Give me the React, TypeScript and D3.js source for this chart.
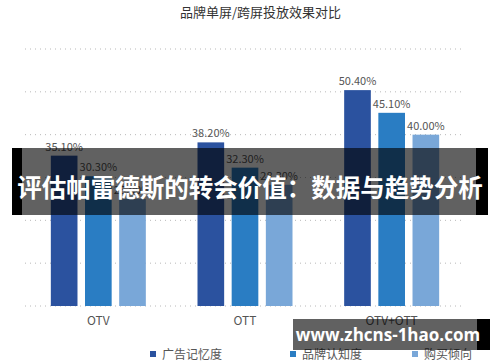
import * as d3 from "d3";
import React from "react";

const categories = ["OTV", "OTT", "OTV+OTT"];
const seriesNames = ["广告记忆度", "品牌认知度", "购买倾向"];
const adRecall = [35.1, 38.2, 50.4];
const brandAwareness = [30.3, 32.3, 45.1];
const purchaseIntent = [25.0, 28.3, 40.0];
const yTicks = [0, 10, 20, 30, 40, 50, 60];
const colors = ["#2b529f", "#2a7dc3", "#79a7d8"];

const width = 500;
const height = 362;
const margin = { top: 49, right: 35, bottom: 56, left: 25 };

export default function App() {
    const values = [adRecall, brandAwareness, purchaseIntent];

    const x = d3.scaleBand()
        .domain(categories)
        .range([margin.left, width - margin.right]);

    const groupWidth = 95;
    const inner = d3.scaleBand()
        .domain(seriesNames)
        .range([0, groupWidth])
        .paddingInner(0.22);

    const y = d3.scaleLinear()
        .domain([0, 60])
        .range([height - margin.bottom, margin.top]);

    const offset = (x.bandwidth() - groupWidth) / 2;
    const font = "'Noto Sans CJK SC', 'Noto Sans', sans-serif";

    // legend positions
    const legendX = [150, 290, 412];

    return (
        <svg width={width} height={height} style={{ position: "absolute", left: 0, top: 0 }}
            fontFamily={font}>
            <rect width={width} height={height} fill="#ffffff" />

            <text x={180} y={17} fontSize={13} fill="#333">品牌单屏/跨屏投放效果对比</text>

            {yTicks.map(t => (
                <line key={t} x1={margin.left} x2={width - margin.right}
                    y1={y(t)} y2={y(t)} stroke="#b8b8b8" strokeWidth={1}
                    strokeDasharray="1,4" />
            ))}

            {categories.map((c, ci) => (
                <g key={c} transform={`translate(${(x(c) || 0) + offset},0)`}>
                    {seriesNames.map((s, si) => {
                        const v = values[si][ci];
                        const bx = inner(s) || 0;
                        return (
                            <g key={s}>
                                <rect x={bx} y={y(v)} width={inner.bandwidth()}
                                    height={y(0) - y(v)} fill={colors[si]} />
                                <text x={bx + inner.bandwidth() / 2} y={y(v) - 5}
                                    textAnchor="middle" fontSize={11} fill="#555">
                                    {v.toFixed(2)}%
                                </text>
                            </g>
                        );
                    })}
                </g>
            ))}

            {categories.map(c => (
                <text key={c} x={(x(c) || 0) + x.bandwidth() / 2} y={325}
                    textAnchor="middle" fontSize={12} fill="#555">{c}</text>
            ))}

            {seriesNames.map((s, i) => (
                <g key={s} transform={`translate(${legendX[i]},355)`}>
                    <rect x={0} y={-4} width={6} height={6} fill={colors[i]} />
                    <text x={12} y={0} dy="0.35em" fontSize={12} fill="#555">{s}</text>
                </g>
            ))}

            {/* overlay banner */}
            <rect x={12} y={148} width={10} height={67} fill="#000" />
            <rect x={476} y={148} width={12} height={67} fill="#000" />
            <rect x={22} y={148} width={454} height={67} fill="#000" opacity={0.62} />
            <text x={250} y={188} dy="0.35em" textAnchor="middle" fontSize={24.5}
                fontWeight="bold" fill="#fff" fontFamily="'Noto Sans CJK SC', sans-serif">
                评估帕雷德斯的转会价值：数据与趋势分析
            </text>

            {/* watermark */}
            <rect x={477} y={319} width={13} height={31} fill="#000" />
            <rect x={293} y={319} width={184} height={31} fill="#000" opacity={0.62} />
            <text x={388} y={335} dy="0.35em" textAnchor="middle" fontSize={17}
                fontWeight="bold" fill="#fff" fontFamily="'Open Sans', 'DejaVu Sans', sans-serif">
                www.zhcns-1hao.com
            </text>
        </svg>
    );
}
